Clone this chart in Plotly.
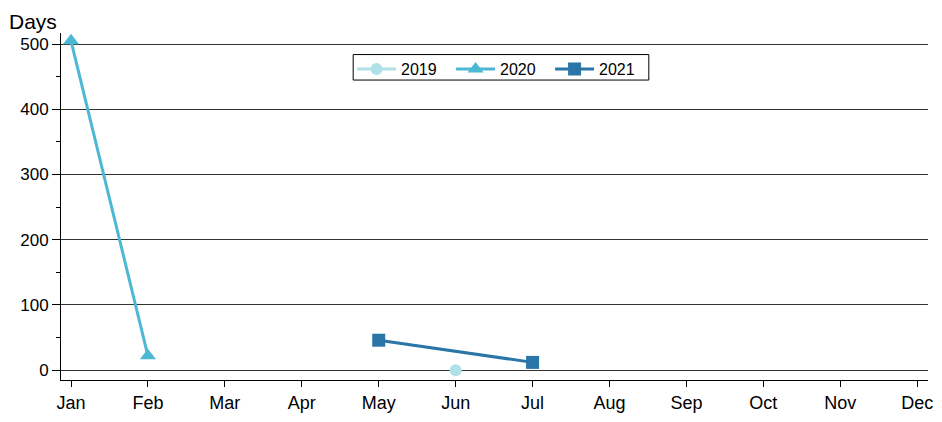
import plotly.graph_objects as go

months = ["Jan", "Feb", "Mar", "Apr", "May", "Jun", "Jul", "Aug", "Sep", "Oct", "Nov", "Dec"]

x2019 = ["Jun"]
y2019 = [0]
x2020 = ["Jan", "Feb"]
y2020 = [505, 22]
x2021 = ["May", "Jul"]
y2021 = [46, 12]

def idx(lst):
    return [months.index(m) for m in lst]

fig = go.Figure()
fig.add_trace(go.Scatter(x=idx(x2019), y=y2019, name="2019", mode="lines+markers",
                         line=dict(color="#b0e0e8", width=3),
                         marker=dict(symbol="circle", size=12, color="#b0e0e8")))
fig.add_trace(go.Scatter(x=idx(x2020), y=y2020, name="2020", mode="lines+markers",
                         line=dict(color="#4db8d4", width=3),
                         marker=dict(symbol="triangle-up", size=14, color="#4db8d4")))
fig.add_trace(go.Scatter(x=idx(x2021), y=y2021, name="2021", mode="lines+markers",
                         line=dict(color="#2a76a8", width=3),
                         marker=dict(symbol="square", size=13, color="#2a76a8")))

fig.update_layout(
    width=942, height=422,
    margin=dict(l=61, r=9, t=33, b=35),
    paper_bgcolor="white", plot_bgcolor="white",
    font=dict(family="Liberation Sans, Arial", size=17, color="black"),
    showlegend=True,
    legend=dict(orientation="h", x=0.507, xanchor="center", y=0.945, yanchor="top",
                borderwidth=0, bgcolor="rgba(0,0,0,0)", font=dict(size=16),
                itemwidth=39, entrywidth=45, entrywidthmode="pixels"),
    shapes=[dict(type="rect", xref="paper", yref="paper", x0=0.337, x1=0.678,
                 y0=0.8644, y1=0.9379, line=dict(color="black", width=1),
                 fillcolor="white", layer="below")],
    xaxis=dict(
        range=[-0.13, 11.14], tickmode="array", tickvals=list(range(12)), ticktext=months,
        showgrid=False, zeroline=False, showline=True, linecolor="black", linewidth=1,
        ticks="outside", ticklen=6, tickcolor="black", tickfont=dict(size=18),
    ),
    yaxis=dict(
        range=[-15, 517], tickmode="array", tickvals=[0, 100, 200, 300, 400, 500],
        showgrid=True, gridcolor="#333333", gridwidth=1, zeroline=False,
        showline=True, linecolor="black", linewidth=1,
        ticks="outside", ticklen=8, tickcolor="black", tickfont=dict(size=17),
        minor=dict(tickmode="array", tickvals=[50, 150, 250, 350, 450], ticks="outside",
                   ticklen=4, tickcolor="black", showgrid=False),
    ),
    annotations=[dict(text="Days", xref="paper", yref="paper", x=-0.062, y=1.0,
                      xanchor="left", yanchor="bottom", showarrow=False,
                      font=dict(size=21), yshift=-2)],
)
fig.write_html("out.html", config={"displayModeBar": False},
               post_script="document.body.style.margin='0';")
